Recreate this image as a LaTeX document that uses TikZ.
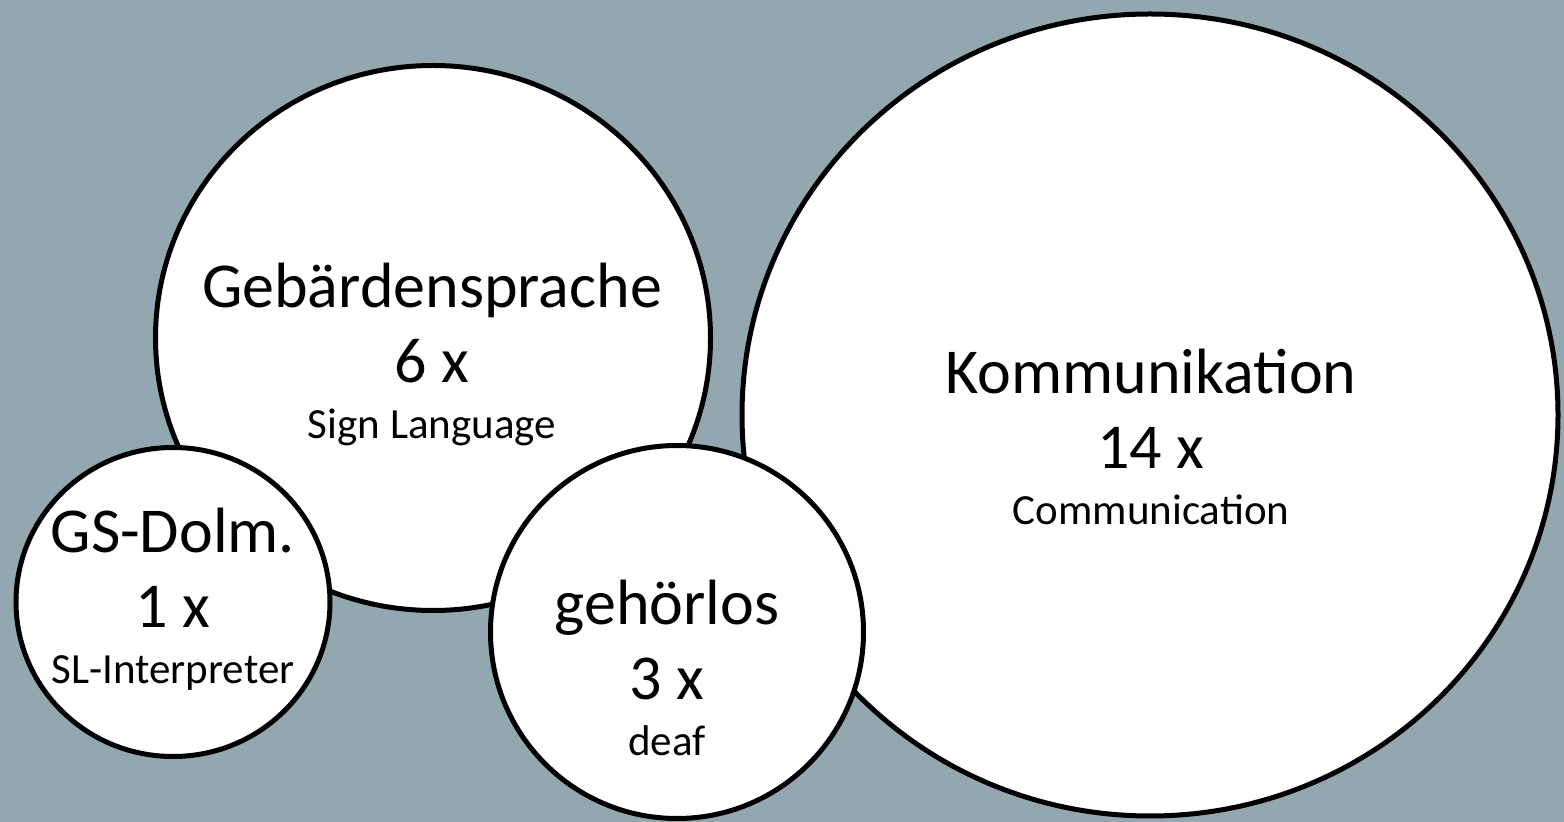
\documentclass[tikz,border=0pt]{standalone}
\usepackage{fontspec}
\setmainfont{Carlito}
\usetikzlibrary{shapes.geometric}
\definecolor{slate}{RGB}{147,167,176}

\begin{document}
\begin{tikzpicture}[x=0.5pt,y=-0.5pt]
    \tikzstyle{bubble}=[ellipse,draw=black,line width=2.5pt,fill=white,inner sep=0pt]
    \tikzstyle{word}=[font=\fontsize{32}{38}\selectfont,anchor=base,inner sep=0pt]
    \tikzstyle{gloss}=[font=\fontsize{21.5}{26}\selectfont,anchor=base,inner sep=0pt]

    % Background
    \fill[slate] (0,0) rectangle (1564,822);
    \useasboundingbox (0,0) rectangle (1564,822);

    % Draw the circles, back to front
    \node[bubble,minimum width=408pt,minimum height=401pt] (K) at (1150,415) {};
    \node[bubble,minimum width=277.5pt,minimum height=272.5pt] (G) at (433,338) {};
    \node[bubble,minimum width=157pt,minimum height=154.5pt] (D) at (173,602) {};
    \node[bubble,minimum width=186.5pt,minimum height=186.5pt] (H) at (677,632) {};

    % Word, count and translation in every circle
    \foreach \name/\x/\y/\term/\count/\trans in {K/1151/394/Kommunikation/14 x/Communication,
        G/432/308/Gebärdensprache/6 x/Sign Language,
        D/173/553/GS-Dolm./1 x/SL-Interpreter,
        H/667/625/gehörlos/3 x/deaf}
    {
        \node[word] (\name-1) at (\x,\y) {\term};
        \node[word] (\name-2) at (\x,\y+75) {\count};
        \node[gloss] (\name-3) at (\x,\y+131) {\trans};
    }
\end{tikzpicture}
\end{document}
